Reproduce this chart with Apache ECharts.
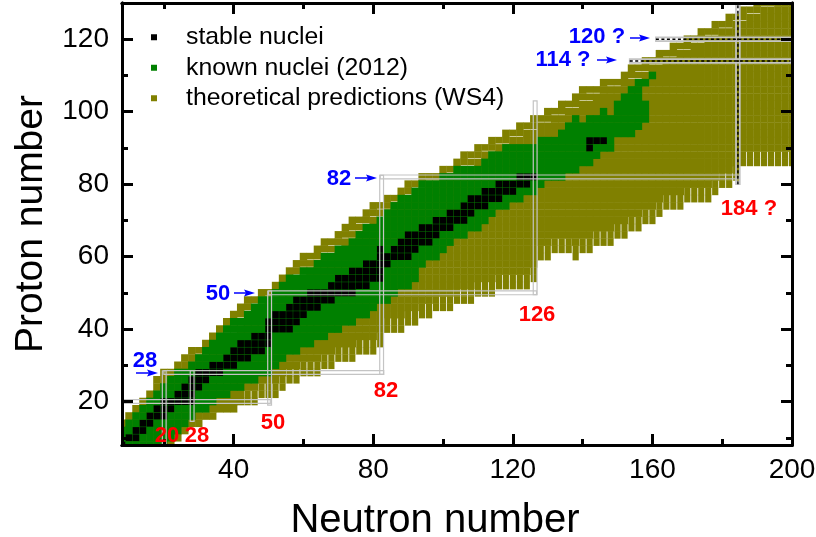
<!DOCTYPE html>
<html><head><meta charset="utf-8">
<style>html,body{margin:0;padding:0;background:#fff}#c{width:816px;height:537px}</style>
<script src="https://cdn.jsdelivr.net/npm/echarts@6/dist/echarts.min.js"></script>
</head><body><div id="c"></div>
<script>
// even proton rows Z = 8,10,...,130
var theoryFirstZ = 8;
var theoryMinN = [8,8,8,8,10,12,14,16,18,18,20,24,26,28,32,34,36,38,40,42,44,48,52,54,56,58,60,64,66,70,72,74,78,80,84,88,90,94,100,104,106,110,114,118,122,126,130,134,138,140,146,152,154,158,162,166,170,174,178,182,186,190];
var theoryMaxN = [22,24,26,30,34,40,46,52,54,58,64,68,74,80,82,82,88,92,96,102,108,114,124,126,126,126,130,142,148,152,156,160,162,168,176,178,182,184,184,200,200,200,200,200,200,200,200,200,200,200,200,200,200,200,200,200,200,200,200,200,200,200];
var theoryExtra = [[138,60]];
// even proton rows Z = 8,10,...,110
var knownFirstZ = 8;
var knownMinN = [8,8,8,10,12,14,16,18,20,22,24,28,30,32,34,36,38,40,44,46,48,52,54,56,60,64,66,70,74,76,78,82,84,86,88,92,94,100,104,112,114,118,128,134,136,146,150,150,152,154,156,160];
var knownMaxN = [20,22,24,26,28,32,34,38,42,46,50,52,54,58,62,66,70,74,78,80,84,86,90,92,92,94,98,100,102,106,110,112,114,118,122,126,128,134,138,142,144,148,148,154,156,158,158,158,154,156,158,160];
var knownExtra = [[138,98],[142,98],[144,98],[146,100],[156,104]];
// stable nuclei: [Z, neutron numbers...]
var stableRows = [[8,8],[10,10,12],[12,12,14],[14,14,16],[16,16,18,20],[18,18,20,22],[20,20,22,24,26,28],[22,24,26,28],[24,26,28,30],[26,28,30,32],[28,30,32,34,36],[30,34,36,38,40],[32,38,40,42,44],[34,40,42,44,46,48],[36,42,44,46,48,50],[38,46,48,50],[40,50,52,54,56],[42,50,52,54,56,58],[44,52,54,56,58,60],[46,56,58,60,62,64],[48,58,60,62,64,66,68],[50,62,64,66,68,70,72,74],[52,68,70,72,74,76,78],[54,70,72,74,76,78,80,82],[56,74,76,78,80,82],[58,78,80,82,84],[60,82,84,86,88,90],[62,82,86,88,90,92],[64,88,90,92,94,96],[66,90,92,94,96,98],[68,94,96,98,100,102],[70,98,100,102,104,106],[72,102,104,106,108],[74,106,108,110,112],[76,108,110,112,114,116],[78,112,114,116,118,120],[80,116,118,120,122,124],[82,122,124,126],[90,142],[92,142,144,146]];
// magic-number boxes: [N from, Z from, N to, Z to, hatched]
var magicBoxes = [
 [20.1,7.6,20.1,28.5,0],[28.1,14.5,28.1,28.5,0],[8.5,20,50.5,20,0],[20,28,83,28,0],
 [50.3,19,50.3,50.5,0],[50,50,126.8,50,0],[82.4,27.5,82.4,82.4,0],[82,82,184.8,82,0],
 [126.4,49.5,126.4,103,0],[184.5,80,184.5,129.8,1],[153.5,114,199.6,114,1],[161,120,199.6,120,1]
];
var xMajor = [40,80,120,160,200], xMinor = [20,60,100,140,180];
var yMajor = [20,40,60,80,100,120], yMinor = [10,30,50,70,90,110,130];
var blueLabels = [['28',145,361],['50',218,294],['82',339,179],['120 ?',597,37],['114 ?',563,60]];
var redLabels = [['20',167,436],['28',197,436],['50',273,423],['82',386,391],['126',537,315],['184 ?',749,209]];
var arrows = [[136,158,373],[234,255,293],[355,377,178],[630,650,38],[597,617,60]];

function rows(firstZ, mins, maxs, extra){
  var out=[];
  mins.forEach(function(m,i){ for(var n=m;n<=maxs[i];n+=2) out.push([n,firstZ+2*i]); });
  return out.concat(extra);
}
var stable=[];
stableRows.forEach(function(r){ r.slice(1).forEach(function(n){ stable.push([n,r[0]]); }); });
var theoryPts=rows(theoryFirstZ,theoryMinN,theoryMaxN,theoryExtra);
var theorySet={};
theoryPts.forEach(function(p){theorySet[p[0]+'_'+p[1]]=1;});

function axisBase(pos,customVals,len){
  return {type:'value',min:pos.min,max:pos.max,position:pos.p,z:10,
    splitLine:{show:false},
    axisLine:{show:true,onZero:false,lineStyle:{color:'#000',width:3}},
    axisTick:{show:true,inside:true,length:len,customValues:customVals,lineStyle:{color:'#000',width:3}},
    axisLabel:{show:false}};
}
var xAxes=[
  Object.assign(axisBase({min:8,max:200,p:'bottom'},xMajor,11),{
    name:'Neutron number',nameLocation:'middle',nameGap:56,
    nameTextStyle:{fontFamily:'Liberation Sans',fontSize:40,color:'#000',padding:[0,44,0,0]},
    axisLabel:{show:true,customValues:xMajor,fontFamily:'Liberation Sans',fontSize:28,color:'#000',margin:11}}),
  axisBase({min:8,max:200,p:'top'},xMajor,11),
  axisBase({min:8,max:200,p:'bottom'},xMinor,6),
  axisBase({min:8,max:200,p:'top'},xMinor,6)
];
var yAxes=[
  Object.assign(axisBase({min:8,max:130,p:'left'},yMajor,11),{
    name:'Proton number',nameLocation:'middle',nameGap:71,
    nameTextStyle:{fontFamily:'Liberation Sans',fontSize:39,color:'#000'},
    axisLabel:{show:true,customValues:yMajor,fontFamily:'Liberation Sans',fontSize:28,color:'#000',margin:13}}),
  axisBase({min:8,max:130,p:'right'},yMajor,11),
  axisBase({min:8,max:130,p:'left'},yMinor,6),
  axisBase({min:8,max:130,p:'right'},yMinor,6)
];
function sq(name,data,color,w,h,z,edge){
  return {name:name,type:'custom',data:data,clip:true,z:z,silent:true,itemStyle:{color:color},
    encode:{x:0,y:1},
    renderItem:function(params,api){
      var n=api.value(0),zz=api.value(1);
      var c=api.coord([n,zz]);
      var ww=w,hh=h;
      if(edge){
        if(n>=44&&!theorySet[n+'_'+(zz-4)]) ww=6.2;
        var idx=(zz-theoryFirstZ)/2, off=n-theoryMinN[idx];
        if(zz>=34&&off>=2&&off<6) hh=6.7;
      }
      return {type:'rect',shape:{x:c[0]-ww/2,y:c[1]-h/2,width:ww,height:hh},style:{fill:color,stroke:null}};
    }};
}
function renderBox(params,api){
  var n1=api.value(0),z1=api.value(1),n2=api.value(2),z2=api.value(3),h=api.value(4);
  var a=api.coord([n1,z1]),b=api.coord([n2,z2]);
  var hw=1.9;
  var x=Math.min(a[0],b[0])-(n1===n2?hw:0), y=Math.min(a[1],b[1])-(z1===z2?hw:0);
  var w=Math.abs(a[0]-b[0])+(n1===n2?2*hw:0), he=Math.abs(a[1]-b[1])+(z1===z2?2*hw:0);
  var kids=[{type:'rect',shape:{x:x,y:y,width:w,height:he},
    style:{fill:'none',stroke:'#c4c4c4',lineWidth:h?1.7:1.2}}];
  if(h){kids.push({type:'line',shape:{x1:a[0],y1:a[1],x2:b[0],y2:b[1]},
    style:{stroke:'#000',lineWidth:1.5,lineDash:[3,2.5]}});}
  return {type:'group',children:kids};
}
var gfx=[];
blueLabels.forEach(function(l){gfx.push({type:'text',x:l[1],y:l[2],z:50,style:{text:l[0],fill:'#0000ff',font:'bold 22px "Liberation Sans"',align:'center',verticalAlign:'middle'}});});
redLabels.forEach(function(l){gfx.push({type:'text',x:l[1],y:l[2],z:50,style:{text:l[0],fill:'#ff0000',font:'bold 22px "Liberation Sans"',align:'center',verticalAlign:'middle'}});});
arrows.forEach(function(a){
  gfx.push({type:'line',z:50,shape:{x1:a[0],y1:a[2],x2:a[1]-6,y2:a[2]},style:{stroke:'#0000ff',lineWidth:1.5}});
  gfx.push({type:'polygon',z:50,shape:{points:[[a[1],a[2]],[a[1]-11,a[2]-3.5],[a[1]-9,a[2]],[a[1]-11,a[2]+3.5]]},style:{fill:'#0000ff'}});
});
var chart=echarts.init(document.getElementById('c'),null,{renderer:'canvas'});
chart.setOption({
  animation:false,backgroundColor:'#fff',
  grid:{left:122,right:24,top:3,bottom:92,containLabel:false,outerBoundsMode:'none'},
  legend:{left:146,top:19,orient:'vertical',itemWidth:6,itemHeight:6,itemGap:4,icon:'rect',
    data:['stable nuclei','known nuclei (2012)','theoretical predictions (WS4)'],
    textStyle:{fontFamily:'Liberation Sans',fontSize:24.8,color:'#000',padding:[0,0,0,24],lineHeight:26.5},selectedMode:false},
  xAxis:xAxes,yAxis:yAxes,
  series:[
    sq('theoretical predictions (WS4)',theoryPts,'#808000',7.4,7.6,3,true),
    sq('known nuclei (2012)',rows(knownFirstZ,knownMinN,knownMaxN,knownExtra),'#008000',7.4,7.6,4,false),
    sq('stable nuclei',stable,'#000',6.6,6.8,5,false),
    {type:'custom',data:magicBoxes,renderItem:renderBox,clip:false,z:6,silent:true,encode:{x:[0,2],y:[1,3]}}
  ],
  graphic:gfx
});
</script></body></html>
